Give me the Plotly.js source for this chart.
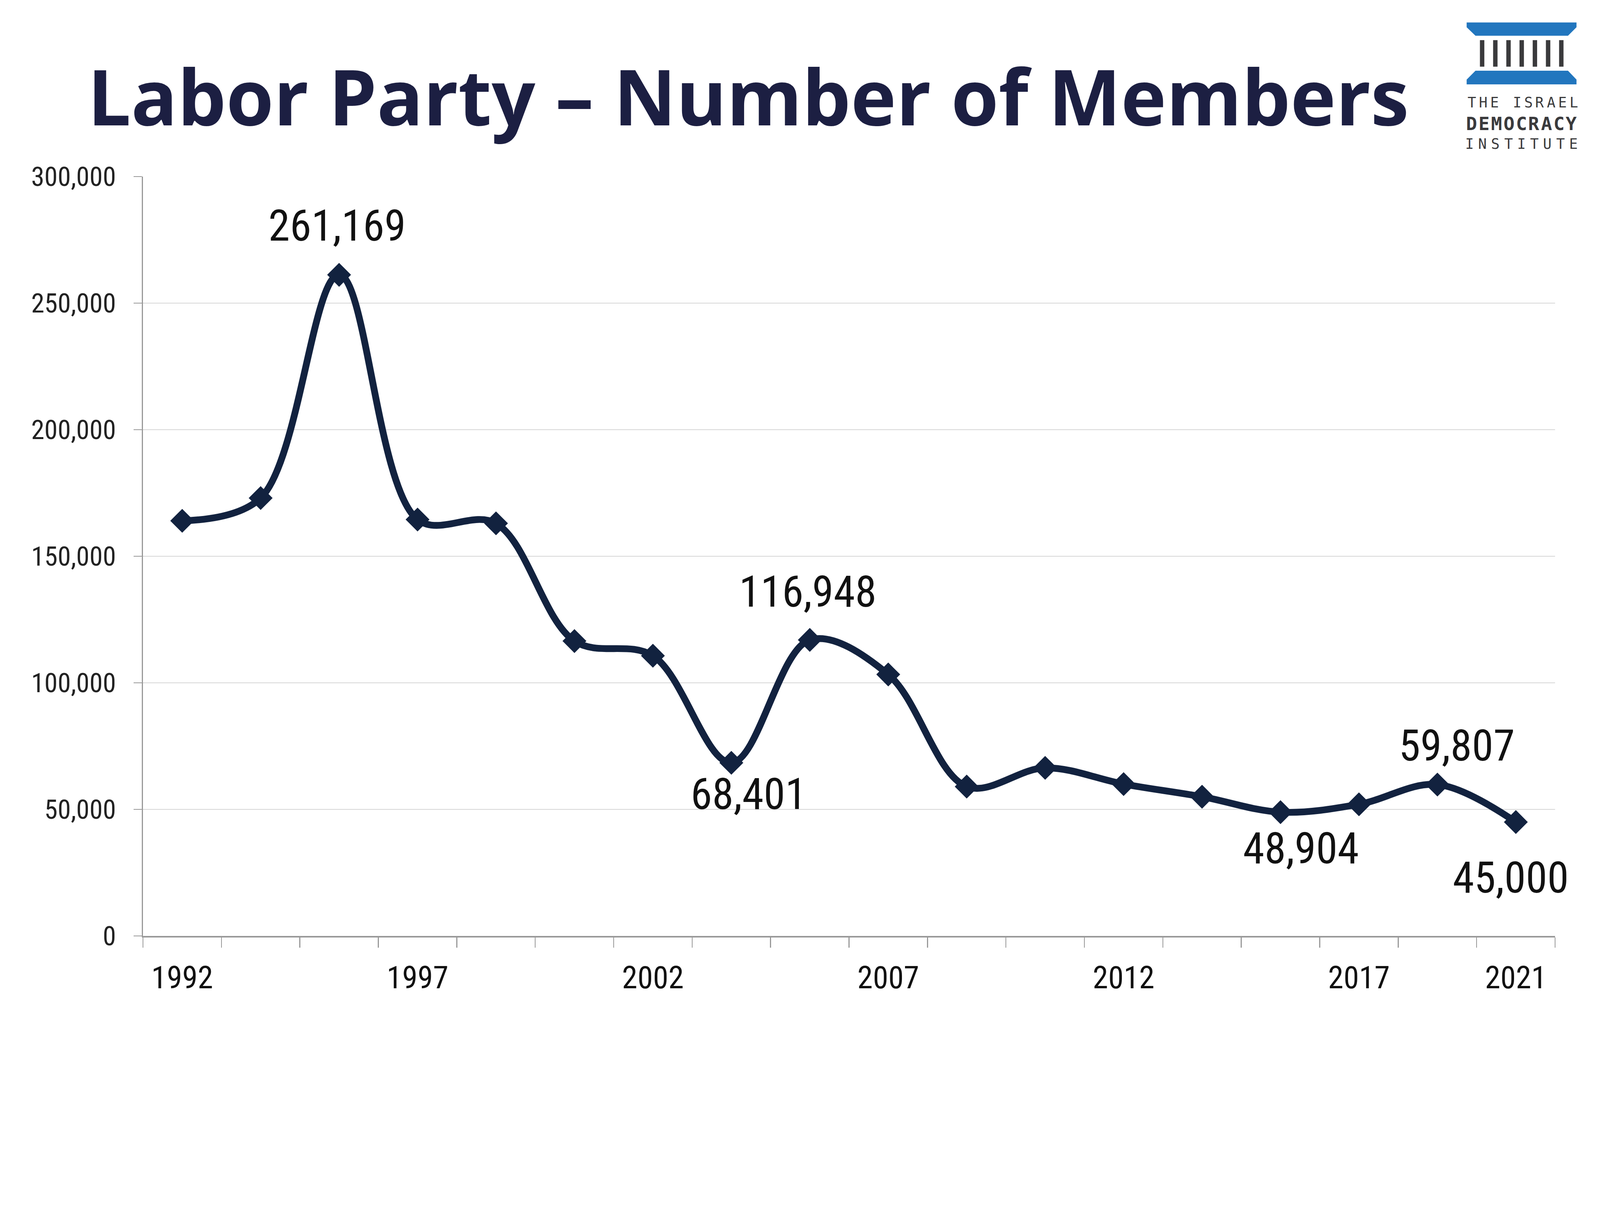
<!DOCTYPE html>
<html>
<head>
<meta charset="utf-8">
<script src="https://cdn.plot.ly/plotly-3.0.1.min.js"></script>
<style>html,body{margin:0;padding:0;background:#fff;overflow:hidden;}</style>
</head>
<body>
<div id="chart"></div>
<script>
// ---- data ----
const xLabels = ['1992','','','1997','','','2002','','','2007','','','2012','','','2017','','2021'];
const members = [164000,173000,261169,164500,163000,116500,110700,68401,116948,103300,59000,66400,60000,55000,48904,52000,59807,45000];
const labeledPoints = [2,7,8,14,16,17];
const titleText = 'Labor Party \u2013 Number of Members';
const logoLines = ['THE ISRAEL','DEMOCRACY','INSTITUTE'];

// ---- layout geometry (reference pixels, scaled to the window) ----
const RW = 4704, RH = 3136;
const vw = window.innerWidth || RW, vh = window.innerHeight || RH;
const S = Math.min(vw / RW, vh / RH);
const k = v => v * S;
const ki = v => Math.round(v * S);
const W = RW * S, H = RH * S;
const Mr = {l:420, r:132, t:519, b:385};
const M = {l:k(Mr.l), r:k(Mr.r), t:k(Mr.t), b:k(Mr.b), pad:0};
const PW = RW - Mr.l - Mr.r, PH = RH - Mr.t - Mr.b;
const PX = px => (px - Mr.l) / PW;
const PY = py => (RH - Mr.b - py) / PH;

const idx = members.map((_, i) => i);
const tickIdx = idx.filter(i => xLabels[i] !== '');
const boundaries = [];
for (let i = 0; i <= members.length; i++) boundaries.push(i - 0.5);

const navy = '#12223f';
const axisGray = '#999999';

const trace = {
  x: idx, y: members, type: 'scatter', mode: 'lines+markers',
  line: {color: navy, width: k(20), shape: 'spline', smoothing: 1},
  marker: {symbol: 'diamond', size: k(54), color: navy},
  hoverinfo: 'skip', cliponaxis: false
};

// label offsets (reference pixels, from point to label centre)
const labelOffsets = {2:[-6,144], 7:[51,-92], 8:[-6,141], 14:[60,-107], 16:[57,114], 17:[-15,-164]};
const numFont = 'Liberation Sans Narrow, Roboto Condensed, Liberation Sans, sans-serif';

const annotations = labeledPoints.map(i => ({
  x: i, y: members[i], xref: 'x', yref: 'y',
  text: members[i].toLocaleString('en-US'),
  showarrow: false, xanchor: 'center', yanchor: 'middle',
  xshift: k(labelOffsets[i][0]), yshift: k(labelOffsets[i][1]),
  font: {family: numFont, size: k(128), color: '#111'}
}));

// logo text (letter-spaced)
const logoSpec = [
  {y: 302, size: 42, weight: 'normal', x0: 4327, x1: 4627},
  {y: 363, size: 54, weight: 'bold', x0: 4326, x1: 4620},
  {y: 423, size: 42, weight: 'normal', x0: 4320, x1: 4626}
];
logoLines.forEach((line, li) => {
  const s = logoSpec[li];
  const chars = line.split('');
  const step = (s.x1 - s.x0) / (chars.length - 1);
  chars.forEach((c, ci) => {
    if (c === ' ') return;
    annotations.push({
      x: PX(s.x0 + ci * step), y: PY(s.y), xref: 'paper', yref: 'paper',
      text: c, showarrow: false, xanchor: 'center', yanchor: 'middle',
      font: {family: 'DejaVu Sans Mono, monospace', size: k(s.size), color: '#3a3a3c', weight: s.weight}
    });
  });
});

// logo shapes
const blue = '#2276be';
const poly = pts => 'M' + pts.map(p => PX(p[0]).toFixed(5) + ',' + PY(p[1]).toFixed(5)).join(' L') + ' Z';
const shapes = [
  {type: 'path', xref: 'paper', yref: 'paper', fillcolor: blue, line: {width: 0},
   path: poly([[4312,66],[4635,66],[4635,80],[4610,105],[4338,105],[4312,80]])},
  {type: 'path', xref: 'paper', yref: 'paper', fillcolor: blue, line: {width: 0},
   path: poly([[4338,208],[4610,208],[4635,234],[4635,248],[4312,248],[4312,234]])}
];
for (let c = 0; c < 7; c++) {
  const x0 = 4351 + c * 38.8;
  shapes.push({type: 'rect', xref: 'paper', yref: 'paper', fillcolor: '#3a3a3c', line: {width: 0},
    x0: PX(x0), x1: PX(x0 + 13), y0: PY(196), y1: PY(118)});
}

const layout = {
  width: W, height: H,
  margin: M,
  paper_bgcolor: '#fff', plot_bgcolor: '#fff',
  showlegend: false,
  title: {
    text: titleText,
    font: {family: 'Open Sans, Noto Sans, sans-serif', size: k(226), color: '#1c1f42', weight: 'bold'},
    x: 2200 / RW, xanchor: 'center', xref: 'container',
    y: 1 - 290 / RH, yanchor: 'middle', yref: 'container'
  },
  xaxis: {
    range: [-0.5, members.length - 0.5],
    tickmode: 'array', tickvals: tickIdx, ticktext: tickIdx.map(i => xLabels[i]),
    ticks: '', showgrid: false, zeroline: false,
    showline: true, linecolor: axisGray, linewidth: k(5),
    tickfont: {family: numFont, size: k(92), color: '#111'},
    ticklabelstandoff: ki(39),
    minor: {tickmode: 'array', tickvals: boundaries, ticks: 'outside', ticklen: k(29), tickwidth: k(3), tickcolor: axisGray, showgrid: false},
    fixedrange: true
  },
  yaxis: {
    range: [0, 300000], tickmode: 'linear', tick0: 0, dtick: 50000,
    tickformat: ',d',
    ticks: 'outside', ticklen: k(25), tickwidth: k(3), tickcolor: axisGray,
    showline: true, linecolor: axisGray, linewidth: k(3),
    showgrid: true, gridcolor: '#d6d6d6', gridwidth: k(3),
    zeroline: false,
    tickfont: {family: numFont, size: k(79), color: '#222'},
    ticklabelstandoff: ki(36),
    fixedrange: true
  },
  annotations: annotations,
  shapes: shapes
};

Plotly.newPlot('chart', [trace], layout, {displayModeBar: false, staticPlot: true});
</script>
</body>
</html>
